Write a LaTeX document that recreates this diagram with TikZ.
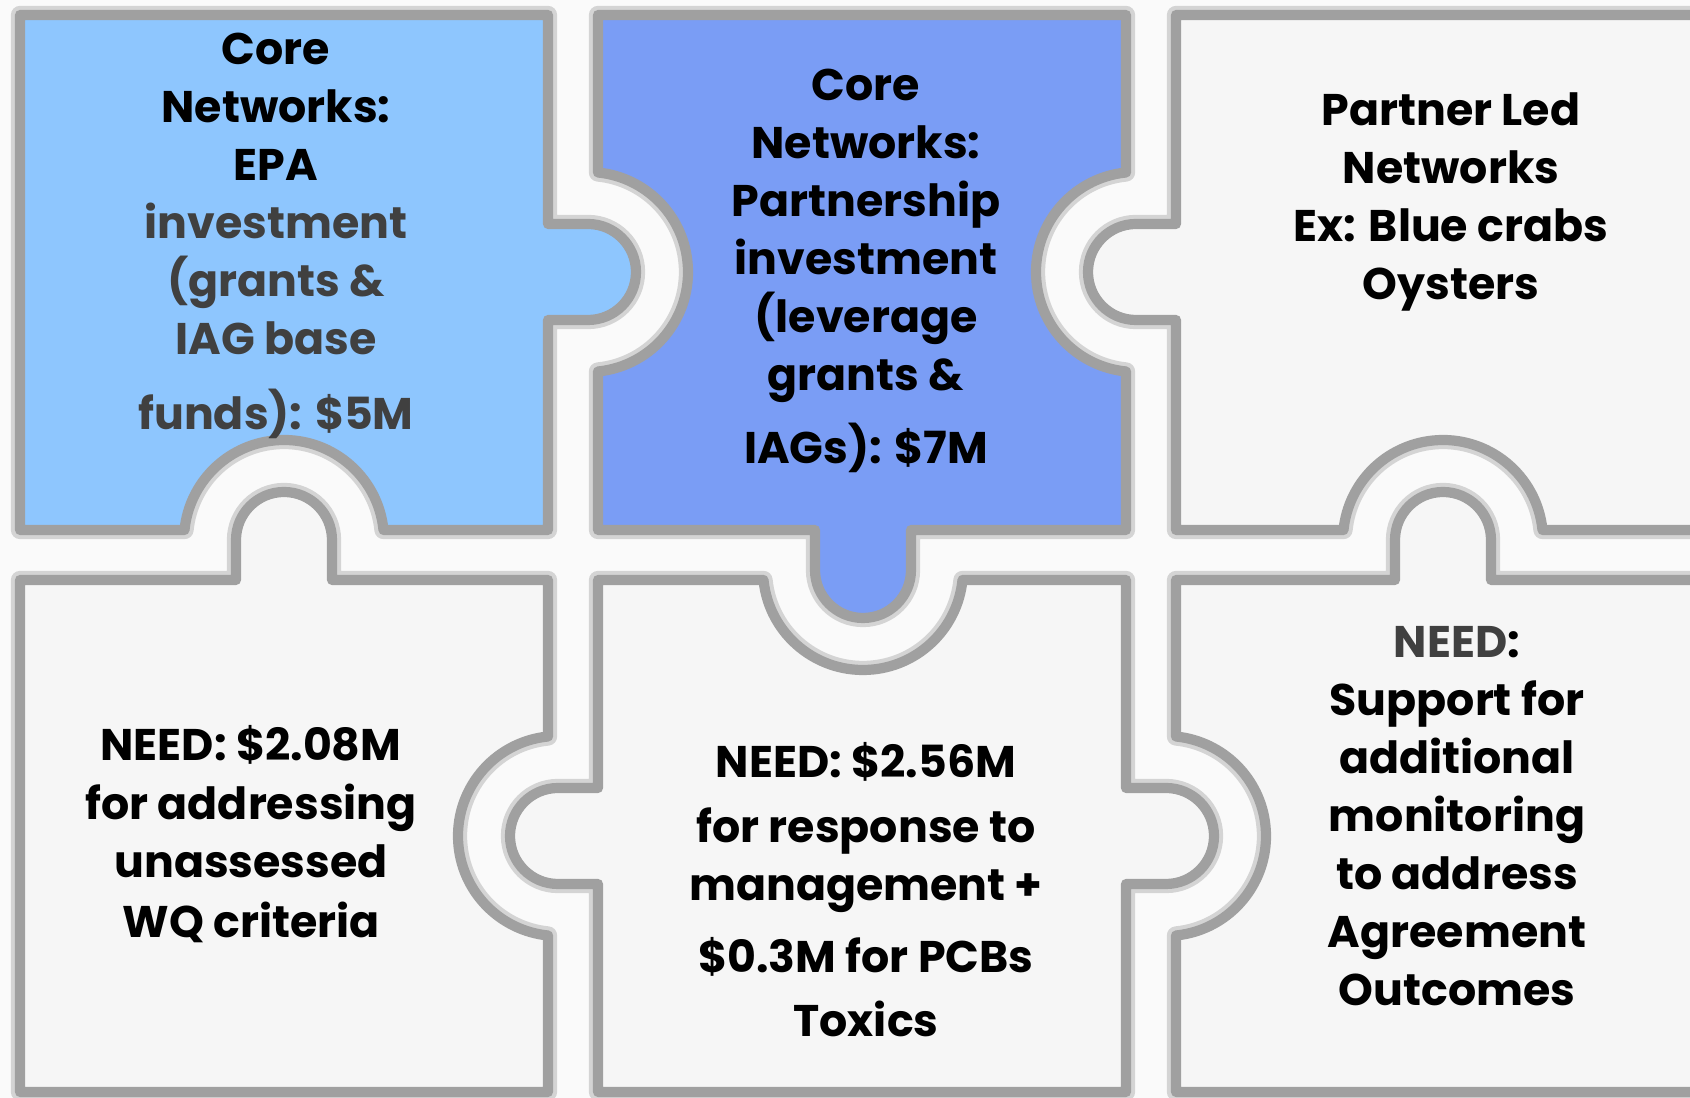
\documentclass[tikz,border=0pt]{standalone}
\usepackage{fontspec}
\setmainfont{Poppins}
\definecolor{edgegray}{RGB}{160,160,160}
\definecolor{halogray}{RGB}{212,212,212}
\definecolor{lightblue}{RGB}{142,198,254}
\definecolor{midblue}{RGB}{122,157,245}
\definecolor{paper}{RGB}{246,246,246}
\definecolor{textgray}{RGB}{64,64,64}
\tikzset{
  piece/.style={draw=edgegray, line width=2.9pt, preaction={draw=halogray, line width=5.2pt}},
  piecetext/.style={align=center, font=\bfseries\fontsize{12.6}{16.5}\selectfont}
}
\begin{document}
\begin{tikzpicture}[x=0.01cm, y=-0.01cm, line join=round, line cap=round]
    \clip (0,0) rectangle (1690,1098);
    \fill[white!98!black] (0,0) rectangle (1690,1098);
    % top row
    \draw[piece, fill=lightblue] (20,15) -- (548,15) -- (548,224) -- (588,224) arc (-90:90:48) -- (548,320) -- (548,530)
        -- (383.5,530) arc (-5.74:-174.26:100) -- (20,530) -- cycle;
    \draw[piece, fill=midblue] (598,15) -- (1126,15) -- (1126,172.5) arc (264.26:95.74:100) -- (1126,530)
        -- (911,530) -- (911,570) arc (0:180:48) -- (815,530) -- (598,530) -- (598,371.5) arc (84.26:-84.26:100) -- cycle;
    \draw[piece, fill=paper] (1176,15) -- (1720,15) -- (1720,530) -- (1542.5,530) arc (-5.74:-174.26:100) -- (1176,530)
        -- (1176,320) -- (1136,320) arc (90:270:48) -- (1176,224) -- cycle;
    % bottom row
    \draw[piece, fill=paper] (20,580) -- (236,580) -- (236,540) arc (180:360:48) -- (332,580) -- (548,580)
        -- (548,736.5) arc (264.26:95.74:100) -- (548,1092) -- (20,1092) -- cycle;
    \draw[piece, fill=paper] (598,580) -- (763.5,580) arc (174.26:5.74:100) -- (1126,580) -- (1126,788) -- (1166,788)
        arc (-90:90:48) -- (1126,884) -- (1126,1092) -- (598,1092) -- (598,884) -- (558,884) arc (90:270:48) -- (598,788) -- cycle;
    \draw[piece, fill=paper] (1176,580) -- (1395,580) -- (1395,540) arc (180:360:48) -- (1491,580) -- (1720,580)
        -- (1720,1092) -- (1176,1092) -- (1176,935.5) arc (84.26:-84.26:100) -- cycle;
    % texts
    \node[piecetext] (epa) at (276,236) {Core\\Networks:\\EPA\\\color{textgray}investment\\\color{textgray}(grants \&\\\color{textgray}IAG base\\[4.8pt]\color{textgray}funds): \$5M};
    \node[piecetext] (partner) at (866,271) {Core\\Networks:\\Partnership\\investment\\(leverage\\grants \&\\[4.3pt]IAGs): \$7M};
    \node[piecetext] (led) at (1451,202) {Partner Led\\Networks\\Ex: Blue crabs\\Oysters};
    \node[piecetext] (needwq) at (251,834) {NEED: \$2.08M\\[0.5pt]for addressing\\unassessed\\[0.5pt]WQ criteria};
    \node[piecetext] (needtox) at (866,890) {NEED: \$2.56M\\[2pt]for response to\\management +\\[4pt]\$0.3M for PCBs\\[1.7pt]Toxics};
    \node[piecetext] (needmon) at (1457,816) {\textcolor{textgray}{NEED}:\\Support for\\additional\\monitoring\\to address\\Agreement\\Outcomes};
\end{tikzpicture}
\end{document}
